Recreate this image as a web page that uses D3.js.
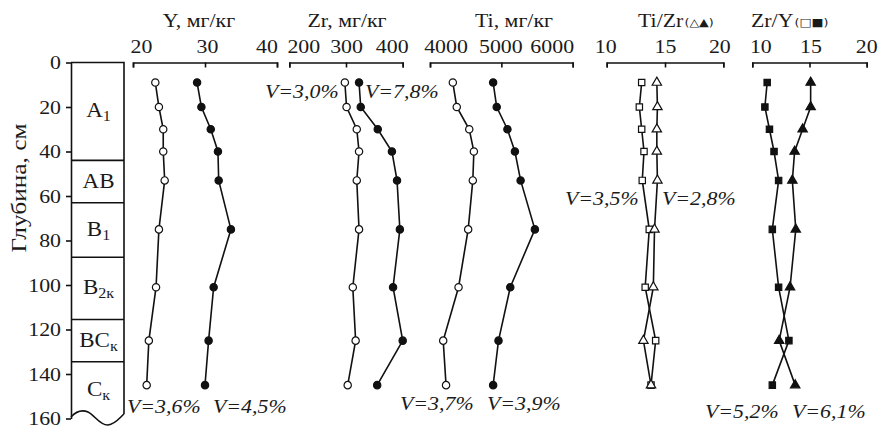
<!DOCTYPE html>
<html>
<head>
<meta charset="utf-8">
<script src="https://cdn.jsdelivr.net/npm/d3@7"></script>
<style>
  body { margin: 0; background: #fff; }
  svg { display: block; }
  text { font-family: "Liberation Serif", "Times New Roman", serif; fill: #1a1a1a; }
</style>
</head>
<body>
<svg id="chart" width="881" height="432"></svg>
<script>
// sampling depths, cm
const depths = [9, 20, 30, 40, 53, 75, 101, 125, 145];

// element contents (open = white markers, filled = black markers)
const yOpen    = [23.1, 23.6, 24.2, 24.2, 24.4, 23.6, 23.2, 22.2, 21.9];
const yFilled  = [28.9, 29.5, 30.8, 31.8, 31.9, 33.6, 31.2, 30.5, 30.0];
const zrOpen   = [298, 301, 319, 323, 319, 323, 312, 317, 303];
const zrFilled = [323, 326, 356, 381, 390, 395, 383, 400, 355];
const tiOpen   = [4320, 4375, 4550, 4615, 4600, 4535, 4400, 4185, 4225];
const tiFilled = [4885, 4935, 5085, 5190, 5270, 5470, 5125, 4960, 4885];

// ratios
const zrYOpen    = [13.0, 12.8, 13.0, 13.2, 13.05, 13.65, 13.3, 14.2, 13.8];
const tiZrOpen   = [14.3, 14.35, 14.3, 14.3, 14.35, 14.1, 14.0, 13.15, 13.8];
const zrYFilled  = [11.3, 11.1, 11.5, 11.9, 12.3, 11.75, 12.3, 13.2, 11.75];
const tiZrFilled = [15.1, 15.1, 14.4, 13.7, 13.5, 13.8, 13.3, 12.35, 13.75];

// soil horizons
const horizonNames = [["A", "1"], ["AB", ""], ["B", "1"], ["B", "2к"], ["BC", "к"], ["C", "к"]];
const horizonTops  = [0, 44, 63, 87.5, 115.5, 134.5];
const depthTicks   = [0, 20, 40, 60, 80, 100, 120, 140, 160];

// coefficients of variation
const vLabels = ["V=3,6%", "V=4,5%", "V=3,0%", "V=7,8%", "V=3,7%", "V=3,9%", "V=3,5%", "V=2,8%", "V=5,2%", "V=6,1%"];

const SX = 1.15;   // the original is slightly wide
const FS = 19;

const svg = d3.select("#chart");
const y = d3.scaleLinear().domain([0, 160]).range([62.5, 418.5]);

function stext(x, yy, size) {
  return svg.append("g")
    .attr("transform", "translate(" + x + "," + yy + ") scale(" + SX + ",1)")
    .append("text")
    .style("font-size", size + "px");
}

// depth axis
const yAxis = svg.append("g")
  .attr("transform", "translate(71,0)")
  .call(d3.axisLeft(y).tickValues(depthTicks).tickSize(5).tickSizeOuter(0).tickPadding(5));
yAxis.selectAll("path, line").attr("stroke", "#111").attr("stroke-width", 1.6);
yAxis.selectAll("text")
  .style("font-size", FS + "px")
  .style("font-family", "Liberation Serif, serif")
  .attr("fill", "#1a1a1a")
  .attr("x", -10 / SX)
  .attr("transform", "scale(" + SX + ",1)");

svg.append("text")
  .attr("transform", "translate(18,188) rotate(-90)")
  .attr("text-anchor", "middle")
  .attr("dominant-baseline", "central")
  .attr("textLength", 129)
  .attr("lengthAdjust", "spacingAndGlyphs")
  .style("font-size", "22px")
  .text("Глубина, см");

// soil column
const colL = 71, colR = 124, yb = y(160);
svg.append("path")
  .attr("fill", "none").attr("stroke", "#111").attr("stroke-width", 1.6)
  .attr("d", "M" + colL + "," + y(0) + " H" + colR + " V" + (yb - 4.5));
svg.append("path")
  .attr("fill", "none").attr("stroke", "#111").attr("stroke-width", 1.6)
  .attr("d", "M" + colL + "," + (yb - 1.5) +
    " C" + (colL + 6) + "," + (yb - 8) + " " + (colL + 11) + "," + (yb - 9) + " " + (colL + 17) + "," + (yb - 6.5) +
    " C" + (colL + 24) + "," + (yb - 3) + " " + (colL + 29) + "," + (yb + 7) + " " + (colL + 37) + "," + (yb + 6.5) +
    " C" + (colL + 44) + "," + (yb + 6) + " " + (colL + 49) + "," + (yb - 1) + " " + colR + "," + (yb - 4.5));

svg.selectAll(".hz").data(horizonTops.slice(1)).join("line")
  .attr("x1", colL).attr("x2", colR)
  .attr("y1", d => y(d)).attr("y2", d => y(d))
  .attr("stroke", "#111").attr("stroke-width", 1.6);

horizonNames.forEach((h, i) => {
  const top = horizonTops[i];
  const bot = i + 1 < horizonTops.length ? horizonTops[i + 1] : 160;
  const t = stext((colL + colR) / 2 + 1, y((top + bot) / 2) + 6, 20).attr("text-anchor", "middle");
  t.append("tspan").text(h[0]);
  if (h[1]) t.append("tspan").attr("dy", 4).style("font-size", "14px").text(h[1]);
});

// panels
const panels = [
  { title: "Y, мг/кг", tx: 199, domain: [20, 40], ticks: [20, 30, 40], range: [133, 277], shift: [8, 2, -10.5],
    series: [{ v: yOpen, shape: d3.symbolCircle, fill: "#fff" }, { v: yFilled, shape: d3.symbolCircle, fill: "#111" }] },
  { title: "Zr, мг/кг", tx: 347, domain: [200, 400], ticks: [200, 300, 400], range: [289.3, 402.7], shift: [14, 0, -11],
    series: [{ v: zrOpen, shape: d3.symbolCircle, fill: "#fff" }, { v: zrFilled, shape: d3.symbolCircle, fill: "#111" }] },
  { title: "Ti, мг/кг", tx: 514, domain: [4000, 6000], ticks: [4000, 5000, 6000], range: [430, 572.7], shift: [15.5, -1, -21],
    series: [{ v: tiOpen, shape: d3.symbolCircle, fill: "#fff" }, { v: tiFilled, shape: d3.symbolCircle, fill: "#111" }] },
  { title: "Ti/Zr", small: "(△▲)", tl: 638, domain: [10, 20], ticks: [10, 15, 20], range: [606.7, 723.3], shift: [-1.5, 0, -4],
    series: [{ v: zrYOpen, shape: d3.symbolSquare, fill: "#fff" }, { v: tiZrOpen, shape: d3.symbolTriangle, fill: "#fff" }] },
  { title: "Zr/Y", small: "(□■)", tl: 751, domain: [10, 20], ticks: [10, 15, 20], range: [752.3, 866.7], shift: [8, 1, -0.5],
    series: [{ v: zrYFilled, shape: d3.symbolSquare, fill: "#111" }, { v: tiZrFilled, shape: d3.symbolTriangle, fill: "#111" }] }
];

function sizeOf(shape) {
  if (shape === d3.symbolCircle) return 42;
  if (shape === d3.symbolSquare) return 40;
  return 38;
}

panels.forEach(p => {
  const x = d3.scaleLinear().domain(p.domain).range(p.range);
  const ax = svg.append("g")
    .attr("transform", "translate(0," + y(0) + ")")
    .call(d3.axisTop(x).tickValues(p.ticks).tickSize(-5).tickPadding(9.5).tickFormat(d3.format("d")));
  ax.selectAll("path, line").attr("stroke", "#111").attr("stroke-width", 1.6);
  ax.selectAll("text")
    .style("font-size", FS + "px")
    .style("font-family", "Liberation Serif, serif")
    .attr("fill", "#1a1a1a")
    .attr("x", (d, i) => p.shift[i] / SX)
    .attr("transform", "scale(" + SX + ",1)");

  if (p.small) {
    const t = stext(p.tl, 27, FS).attr("text-anchor", "start");
    t.append("tspan").text(p.title);
    t.append("tspan").attr("dx", 1).attr("dy", -1)
      .style("font-size", "11px").style("font-family", "DejaVu Sans, sans-serif").text(p.small);
  } else {
    stext(p.tx, 27, FS).attr("text-anchor", "middle").text(p.title);
  }

  const line = d3.line().x(d => x(d)).y((d, i) => y(depths[i]));
  p.series.forEach(s => {
    svg.append("path").datum(s.v)
      .attr("fill", "none").attr("stroke", "#111").attr("stroke-width", 1.6)
      .attr("d", line);
  });
  p.series.forEach(s => {
    svg.append("g").selectAll("path").data(s.v).join("path")
      .attr("transform", (d, i) => "translate(" + x(d) + "," + y(depths[i]) + ")")
      .attr("d", d3.symbol().type(s.shape).size(sizeOf(s.shape)))
      .attr("fill", s.fill).attr("stroke", "#111").attr("stroke-width", 1.2);
  });
});

// coefficient of variation labels
const vPos = [[127, 406], [213, 406], [265, 91], [365, 91], [400, 403], [487, 403], [565, 198], [662, 198], [705, 411], [792, 411]];
vLabels.forEach((t, i) => {
  stext(vPos[i][0], vPos[i][1] + 6.5, FS)
    .attr("text-anchor", "start")
    .style("font-style", "italic")
    .attr("fill", "#4a4a4a")
    .text(t);
});
</script>
</body>
</html>
